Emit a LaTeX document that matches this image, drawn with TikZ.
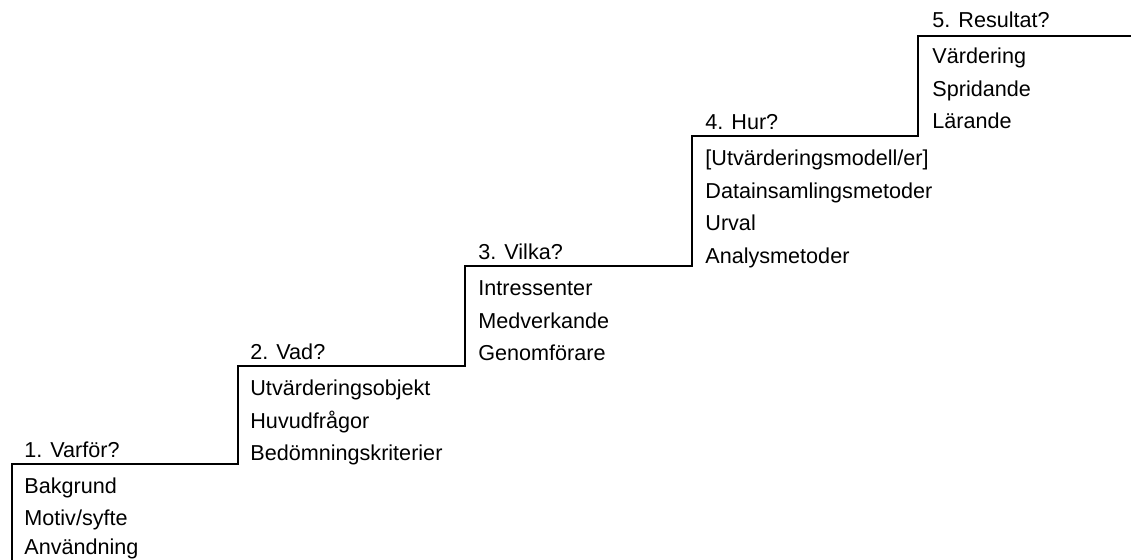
\documentclass[tikz,border=0pt]{standalone}
\usepackage{fontspec}
\setmainfont{Liberation Sans}
\usepackage{tikz}

\newcommand{\stairfont}{\fontsize{10.8}{13}\selectfont}

\begin{document}
\begin{tikzpicture}[x=0.5pt, y=-0.5pt,
  stair/.style={line width=1.2pt, black},
  txt/.style={anchor=base west, inner sep=0pt, font=\stairfont}]
\useasboundingbox (0,0) rectangle (1131,560);

% Staircase
\coordinate (c0) at (12,560);
\coordinate (c1) at (238,464);
\coordinate (c2) at (465,366);
\coordinate (c3) at (692,266);
\coordinate (c4) at (918,136);
\coordinate (c5) at (1131,36);
\draw[stair] (c0) |- (c1) |- (c2) |- (c3) |- (c4) |- (c5);

% Step 1
\node[txt] (why) at (24,458) {1. Varför?};
\node[txt] (why1) at (24,494) {Bakgrund};
\node[txt] (why2) at (24,526) {Motiv/syfte};
\node[txt] (why3) at (24,555) {Användning};

% Step 2
\node[txt] (what) at (250,360) {2. Vad?};
\node[txt] (what1) at (250,396) {Utvärderingsobjekt};
\node[txt] (what2) at (250,428.5) {Huvudfrågor};
\node[txt] (what3) at (250,461) {Bedömningskriterier};

% Step 3
\node[txt] (who) at (478,260) {3. Vilka?};
\node[txt] (who1) at (478,296) {Intressenter};
\node[txt] (who2) at (478,328.5) {Medverkande};
\node[txt] (who3) at (478,361) {Genomförare};

% Step 4
\node[txt] (how) at (705,130) {4. Hur?};
\node[txt] (how1) at (705,166) {[Utvärderingsmodell/er]};
\node[txt] (how2) at (705,198.5) {Datainsamlingsmetoder};
\node[txt] (how3) at (705,231) {Urval};
\node[txt] (how4) at (705,263.5) {Analysmetoder};

% Step 5
\node[txt] (result) at (932,28) {5. Resultat?};
\node[txt] (result1) at (932,64) {Värdering};
\node[txt] (result2) at (932,96.5) {Spridande};
\node[txt] (result3) at (932,129) {Lärande};
\end{tikzpicture}
\end{document}
